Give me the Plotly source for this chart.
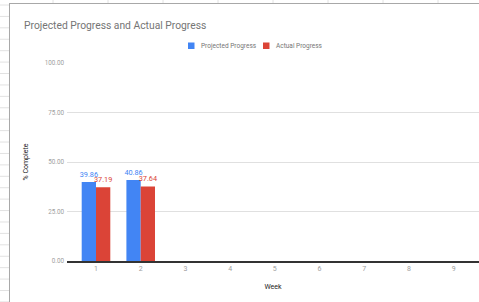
import plotly.graph_objects as go

weeks = [1, 2, 3, 4, 5, 6, 7, 8, 9]
projected = [39.86, 40.86, None, None, None, None, None, None, None]
actual = [37.19, 37.64, None, None, None, None, None, None, None]
y_ticks = [0, 25, 50, 75, 100]
series_names = ["Projected Progress", "Actual Progress"]
series_colors = ["#4285F4", "#DB4437"]

W, H = 479, 302
L, R, T, B = 67, 0, 63, 41
PW, PH = W - L - R, H - T - B

def px(x):
    return (x - L) / PW

def py(y):
    return (H - B - y) / PH

fig = go.Figure()
for name, vals, col in zip(series_names, [projected, actual], series_colors):
    fig.add_trace(go.Bar(
        x=weeks, y=vals, name=name,
        marker=dict(color=col, line=dict(width=6, color="rgba(0,0,0,0)")),
        text=[f"{v:.2f}" if v is not None else "" for v in vals],
        textposition="outside", constraintext="none",
        textfont=dict(color=col, size=7.3, family="Roboto"),
        cliponaxis=False, showlegend=False,
    ))

shapes = []
annotations = []
grid_c = "#e2e2e2"
# spreadsheet grid (left strip)
for k in range(27):
    yy = 5.0 + 11.42 * k
    if yy > H:
        break
    shapes.append(dict(type="line", xref="paper", yref="paper",
                       x0=px(0), x1=px(9), y0=py(yy), y1=py(yy),
                       line=dict(color=grid_c, width=1)))
# spreadsheet grid (top strip)
for xx in [53, 108, 163, 218, 273, 328, 383, 438]:
    shapes.append(dict(type="line", xref="paper", yref="paper",
                       x0=px(xx), x1=px(xx), y0=py(0), y1=py(3),
                       line=dict(color=grid_c, width=1)))
# chart border
shapes.append(dict(type="line", xref="paper", yref="paper",
                   x0=px(9.5), x1=px(9.5), y0=py(3), y1=py(H),
                   line=dict(color="#a8a8a8", width=1)))
shapes.append(dict(type="line", xref="paper", yref="paper",
                   x0=px(9), x1=px(W), y0=py(3.5), y1=py(3.5),
                   line=dict(color="#a8a8a8", width=1)))

# legend (swatch + label)
for name, col, sx in zip(series_names, series_colors, [188, 263]):
    shapes.append(dict(type="rect", xref="paper", yref="paper",
                       x0=px(sx), x1=px(sx + 6.5), y0=py(42.5), y1=py(49),
                       fillcolor=col, line=dict(width=0)))
    annotations.append(dict(text=name, xref="paper", yref="paper",
                            x=px(sx + 11), y=py(45.8), xanchor="left",
                            yanchor="middle", showarrow=False,
                            font=dict(size=6.5, color="#757575")))

fig.update_layout(
    width=W, height=H,
    margin=dict(l=L, r=R, t=T, b=B, autoexpand=False),
    paper_bgcolor="white", plot_bgcolor="white",
    font=dict(family="Roboto", color="#757575", size=7),
    title=dict(text="Projected Progress and Actual Progress",
               font=dict(size=10.3, color="#757575", family="Roboto"),
               xref="container", x=24 / W, xanchor="left",
               yref="container", y=1 - 25 / H, yanchor="middle"),
    barmode="group", bargap=0.36, bargroupgap=0.0,
    showlegend=False,
    shapes=shapes, annotations=annotations,
)
fig.update_xaxes(
    range=[1 - (96 - L) / 44.7, 1 - (96 - L) / 44.7 + PW / 44.7],
    tickmode="array", tickvals=weeks, ticktext=[str(w) for w in weeks],
    showgrid=False, zeroline=False,
    showline=True, linecolor="#333333", linewidth=1.5,
    ticks="", tickfont=dict(size=7, color="#9e9e9e"),
    title=dict(text="Week", font=dict(size=7, color="#222222"), standoff=12),
    automargin=False,
)
fig.update_yaxes(
    range=[0, 100], tickmode="array", tickvals=y_ticks,
    tickformat=".2f", showgrid=True, gridcolor="#e0e0e0", gridwidth=1,
    zeroline=False, showline=False, ticks="",
    tickfont=dict(size=6.3, color="#9e9e9e"),
    ticklabelstandoff=2,
    title=dict(text="% Complete", font=dict(size=7, color="#222222")),
    automargin=False,
)

fig.write_html("out.html", config={"displayModeBar": False},
               post_script="document.body.style.margin='0';")
